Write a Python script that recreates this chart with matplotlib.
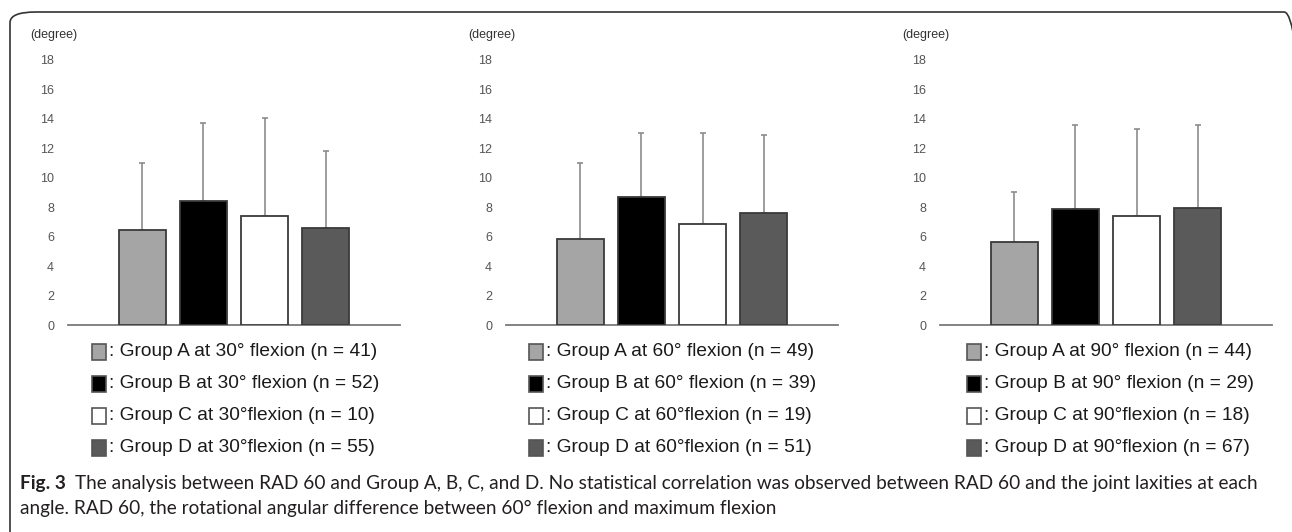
import numpy as np
import matplotlib.pyplot as plt
from matplotlib.patches import FancyBboxPatch, Rectangle

groups = ['A', 'B', 'C', 'D']
angles = [30, 60, 90]

# mean RAD 60 (degree) and upper SD per group
mean_30 = [6.45, 8.40, 7.40, 6.61]
sd_30 = [4.53, 5.30, 6.68, 5.23]
mean_60 = [5.86, 8.72, 6.86, 7.59]
sd_60 = [5.14, 4.34, 6.20, 5.34]
mean_90 = [5.64, 7.86, 7.40, 7.93]
sd_90 = [3.39, 5.75, 5.91, 5.68]

n_30 = [41, 52, 10, 55]
n_60 = [49, 39, 19, 51]
n_90 = [44, 29, 18, 67]

yticks = [0, 2, 4, 6, 8, 10, 12, 14, 16, 18]

bar_colors = ['#a5a5a5', '#000000', '#ffffff', '#5a5a5a']

W, H = 1292, 532
fig = plt.figure(figsize=(W / 100, H / 100), dpi=100)

# rounded frame round the figure (bottom/right run off the page)
frame = FancyBboxPatch((10 / W, -40 / H), 1300 / W, (H - 12 + 40) / H,
                       boxstyle='round,pad=0,rounding_size=0.02',
                       transform=fig.transFigure, fill=False,
                       edgecolor='#333333', linewidth=1.2)
fig.patches.append(frame)

panel_left = [68, 506, 940]
panel_width = 332
leg_sq_left = [92, 529, 967]
leg_rows = [352, 384, 416, 448]

panels = [(mean_30, sd_30, n_30), (mean_60, sd_60, n_60), (mean_90, sd_90, n_90)]

for i, (means, sds, ns) in enumerate(panels):
    ax = fig.add_axes([panel_left[i] / W, (H - 325) / H,
                       panel_width / W, 265 / H])
    x = np.arange(len(groups))
    ax.bar(x, means, width=0.77, color=bar_colors, edgecolor='#3a3a3a',
           linewidth=1.3, zorder=3,
           yerr=[np.zeros(len(sds)), sds],
           error_kw=dict(ecolor='#8c8c8c', elinewidth=1.2, capsize=2.5,
                         capthick=1.2, zorder=2))
    ax.set_xlim(-1.22, 4.22)
    ax.set_ylim(0, 18)
    ax.set_yticks(yticks)
    ax.set_xticks([])
    ax.tick_params(axis='y', length=0, pad=10, labelsize=9,
                   labelcolor='#555555')
    for lab in ax.get_yticklabels():
        lab.set_family('Liberation Sans')
    for s in ['left', 'top', 'right']:
        ax.spines[s].set_visible(False)
    ax.spines['bottom'].set_color('#7a7a7a')
    ax.spines['bottom'].set_linewidth(1.3)
    ax.patch.set_alpha(0)
    ax.annotate('(degree)', xy=(0, 18), xycoords=('axes fraction', 'data'),
                xytext=(-14, 25), textcoords='offset pixels',
                ha='center', va='center', fontsize=9, color='#333333',
                family='Liberation Sans')

    # legend drawn by hand, one square per group
    ang = angles[i]
    labels = [f': Group A at {ang}° flexion (n = {ns[0]})',
              f': Group B at {ang}° flexion (n = {ns[1]})',
              f': Group C at {ang}°flexion (n = {ns[2]})',
              f': Group D at {ang}°flexion (n = {ns[3]})']
    for j, lab in enumerate(labels):
        yc = leg_rows[j]
        sq = Rectangle((leg_sq_left[i] / W, (H - yc - 8) / H), 14 / W, 16 / H,
                       transform=fig.transFigure, facecolor=bar_colors[j],
                       edgecolor='#555555', linewidth=1.2)
        fig.patches.append(sq)
        fig.text((leg_sq_left[i] + 17) / W, (H - yc) / H, lab,
                 ha='left', va='center', fontsize=13.8, color='#1a1a1a',
                 family='Liberation Sans')

cap_font = 'Lato'
cap_size = 13.7
fig_lab = fig.text(20 / W, (H - 484) / H, 'Fig. 3', ha='left', va='center',
                   fontsize=cap_size, fontweight='bold', family=cap_font,
                   color='#231f20')
fig_lab.axes = None
plt.annotate('The analysis between RAD 60 and Group A, B, C, and D. No statistical '
             'correlation was observed between RAD 60 and the joint laxities at each',
             xy=(1, 0.5), xycoords=fig_lab, xytext=(9, 0),
             textcoords='offset pixels', ha='left', va='center',
             fontsize=cap_size, family=cap_font, color='#231f20',
             annotation_clip=False)
fig.text(20 / W, (H - 508) / H,
         'angle. RAD 60, the rotational angular difference between 60° flexion '
         'and maximum flexion',
         ha='left', va='center', fontsize=cap_size, family=cap_font, color='#231f20')

fig.savefig('out.png', dpi=100)
